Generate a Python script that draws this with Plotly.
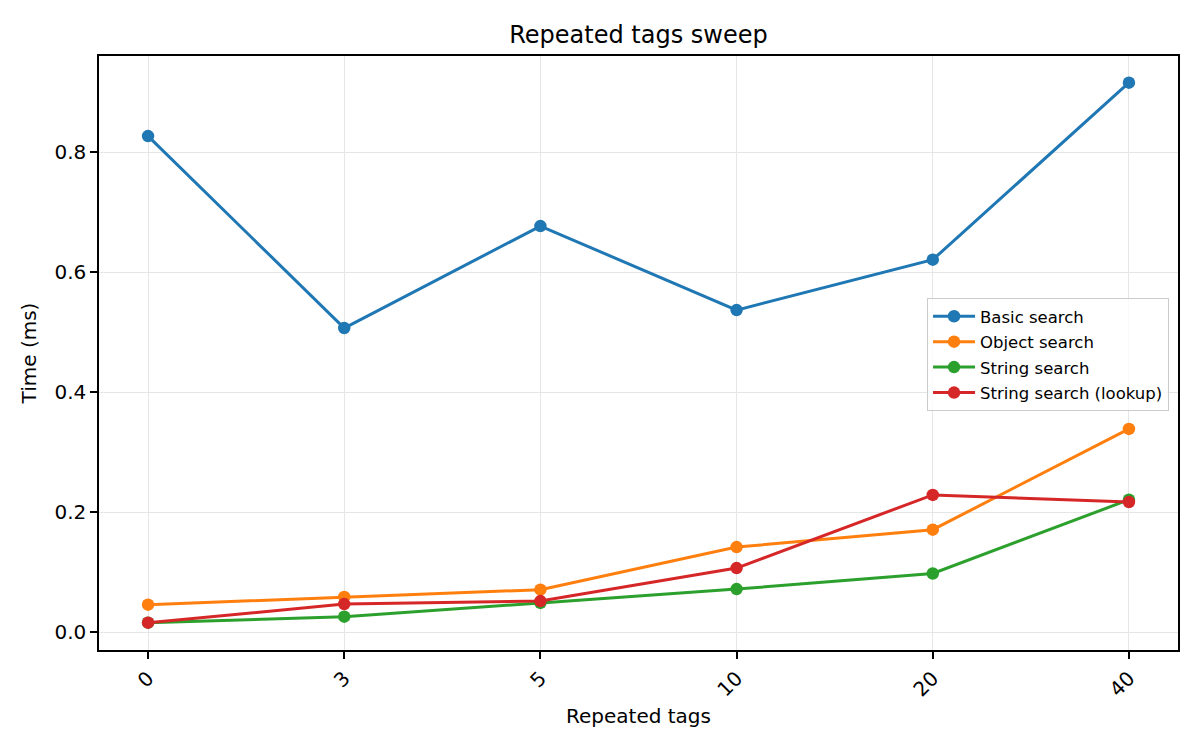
import plotly.graph_objects as go

# repeated tag counts on the x axis
repeated_tags = ["0", "3", "5", "10", "20", "40"]

# timings in ms
basic_search = [0.827, 0.507, 0.677, 0.537, 0.621, 0.916]
object_search = [0.046, 0.059, 0.071, 0.142, 0.171, 0.339]
string_search = [0.016, 0.026, 0.049, 0.072, 0.098, 0.221]
string_lookup = [0.016, 0.047, 0.052, 0.107, 0.229, 0.217]

y_ticks = [0.0, 0.2, 0.4, 0.6, 0.8]

series = [
    ("Basic search", basic_search, "#1f77b4"),
    ("Object search", object_search, "#ff7f0e"),
    ("String search", string_search, "#2ca02c"),
    ("String search (lookup)", string_lookup, "#d62728"),
]

FONT = "DejaVu Sans"

fig = go.Figure()
for name, values, color in series:
    fig.add_trace(go.Scatter(
        x=repeated_tags, y=values,
        name=name,
        legendgroup=name,
        mode="lines+markers",
        line=dict(color=color, width=3),
        marker=dict(color=color, size=12.5),
    ))

axis_style = dict(
    showline=True, mirror=True, linecolor="#000000", linewidth=1.5,
    ticks="outside", ticklen=7, tickwidth=1.5, tickcolor="#000000",
    showgrid=True, gridcolor="#e6e6e6", gridwidth=1,
    zeroline=False,
    tickfont=dict(family=FONT, size=20, color="#000000"),
)

# the page body adds an 8px margin, so the figure is a bit smaller
fig.update_layout(
    width=1192, height=742,
    paper_bgcolor="white", plot_bgcolor="white",
    font=dict(family=FONT, color="#000000"),
    margin=dict(l=91, r=22, t=48, b=100),
    title=dict(
        text="Repeated tags sweep",
        font=dict(family=FONT, size=24, color="#000000"),
        x=0.5, xref="paper", xanchor="center",
        y=1 - 27 / 742, yref="container", yanchor="middle",
    ),
    xaxis=dict(
        type="category",
        range=[-0.25, 5.25],
        tickangle=-45,
        title=dict(text="Repeated tags", font=dict(family=FONT, size=20), standoff=9),
        **axis_style,
    ),
    yaxis=dict(
        range=[-0.0295, 0.9605],
        tickvals=y_ticks,
        tickformat=".1f",
        title=dict(text="Time (ms)", font=dict(family=FONT, size=20), standoff=12),
        **axis_style,
    ),
    legend=dict(
        x=0.9917, y=0.5926, xanchor="right", yanchor="top",
        bgcolor="rgba(255,255,255,0.8)",
        bordercolor="#cccccc", borderwidth=1,
        font=dict(family=FONT, size=16.5, color="#000000"),
        itemwidth=42,
        tracegroupgap=1,
    ),
    showlegend=True,
)

fig.write_html("out.html")
